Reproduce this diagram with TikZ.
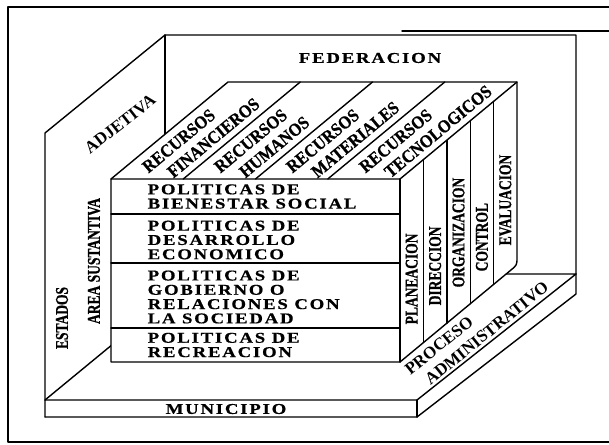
\documentclass[tikz,border=0pt]{standalone}
\usepackage{fontspec}
\setmainfont{Liberation Serif}
\newfontfamily\widefont[FakeStretch=1.25,LetterSpace=12,FakeBold=0.6]{Liberation Serif}
\newfontfamily\narrowfont[FakeStretch=0.75,FakeBold=0.8]{Liberation Serif}
\newfontfamily\topfont[FakeStretch=0.9,FakeBold=0.8]{Liberation Serif}
\usetikzlibrary{calc}

\begin{document}
\begin{tikzpicture}[x=1pt, y=-1pt, line join=round, line cap=round, line width=1.4pt,
	widelabel/.style={font=\widefont\bfseries\fontsize{15}{14.3}\selectfont, align=left, inner sep=0pt},
	sidelabel/.style={font=\narrowfont\bfseries\fontsize{18}{18}\selectfont, inner sep=0pt, rotate=90},
	toplabel/.style={font=\topfont\bfseries\fontsize{18}{18}\selectfont, inner sep=0pt, rotate=39.7, anchor=base west}]
	\useasboundingbox (0,0) rectangle (609,444);
	% marco
	\draw (609,7) -- (8,7) -- (8,442) -- (609,442);
	\draw (402,31) -- (609,31);
	% paredes
	\draw (45,417) -- (45,133) -- (165,35) -- (576,35) -- (576,274);
	\draw (165,35) -- (165,190);
	\draw (45,400) -- (130,330);
	% base
	\draw (45,400) -- (417,400) -- (576,274) -- (480,274);
	\draw (45,417) -- (417,417) -- (576,294) -- (576,274);
	\draw (417,400) -- (417,417);
	% cubo
	\coordinate (ftl) at (111,179);
	\coordinate (ftr) at (400,179);
	\coordinate (fbl) at (111,362);
	\coordinate (fbr) at (400,362);
	\coordinate (btl) at (228,82);
	\coordinate (btr) at (517,82);
	\coordinate (bbr) at (517,265);
	\filldraw[fill=white] (fbl) -- (ftl) -- (btl) -- (btr) -- ($(bbr)!8pt!(btr)$) .. controls (bbr) .. ($(bbr)!8pt!(fbr)$) -- (fbr) -- cycle;
	\draw (ftl) -- (ftr) -- (btr);
	\draw (ftr) -- (fbr);
	\foreach \y in {214,263,328}
		\draw (111,\y) -- (400,\y);
	\foreach \k in {1,2,3}
		\draw ($(ftl)!\k/4!(ftr)$) -- ($(btl)!\k/4!(btr)$);
	\foreach \k in {1,...,4}
		\draw ($(ftr)!\k/5!(btr)$) -- ($(fbr)!\k/5!(bbr)$);
	% textos
	\node[widelabel] (federacion) at (370,58) {FEDERACION};
	\node[widelabel] (municipio) at (226,409) {MUNICIPIO};
	\node[widelabel, anchor=west] (bienestar) at (147,196.5) {POLITICAS DE\\BIENESTAR SOCIAL};
	\node[widelabel, anchor=west] (desarrollo) at (147,240) {POLITICAS DE\\DESARROLLO\\ECONOMICO};
	\node[widelabel, anchor=west] (gobierno) at (147,297) {POLITICAS DE\\GOBIERNO O\\RELACIONES CON\\LA SOCIEDAD};
	\node[widelabel, anchor=west] (recreacion) at (147,345) {POLITICAS DE\\RECREACION};
	\node[toplabel] (recursos1) at (148,174) {RECURSOS};
	\node[toplabel] (financieros) at (173,179) {FINANCIEROS};
	\node[toplabel] (recursos2) at (220,174) {RECURSOS};
	\node[toplabel] (humanos) at (245,179) {HUMANOS};
	\node[toplabel] (recursos3) at (292,174) {RECURSOS};
	\node[toplabel] (materiales) at (317,179) {MATERIALES};
	\node[toplabel] (recursos4) at (365,174) {RECURSOS};
	\node[toplabel] (tecnologicos) at (390,179) {TECNOLOGICOS};
	\node[sidelabel, anchor=west] (planeacion) at (411.7,325) {PLANEACION};
	\node[sidelabel, anchor=west] (direccion) at (435.1,306) {DIRECCION};
	\node[sidelabel, anchor=west] (organizacion) at (458.5,288) {ORGANIZACION};
	\node[sidelabel, anchor=west] (control) at (481.9,272) {CONTROL};
	\node[sidelabel, anchor=west] (evaluacion) at (505.3,246) {EVALUACION};
	\node[sidelabel] (sustantiva) at (94,261) {AREA SUSTANTIVA};
	\node[sidelabel] (estados) at (62,318) {ESTADOS};
	\node[toplabel, anchor=center, rotate=-1.7, font=\bfseries\fontsize{17}{17}\selectfont] (adjetiva) at (120,124) {ADJETIVA};
	\node[toplabel, rotate=-0.7, font=\bfseries\fontsize{17}{17}\selectfont] (proceso) at (410,376) {PROCESO};
	\node[toplabel, rotate=-0.7, font=\bfseries\fontsize{17}{17}\selectfont] (administrativo) at (430,386) {ADMINISTRATIVO};
\end{tikzpicture}
\end{document}
